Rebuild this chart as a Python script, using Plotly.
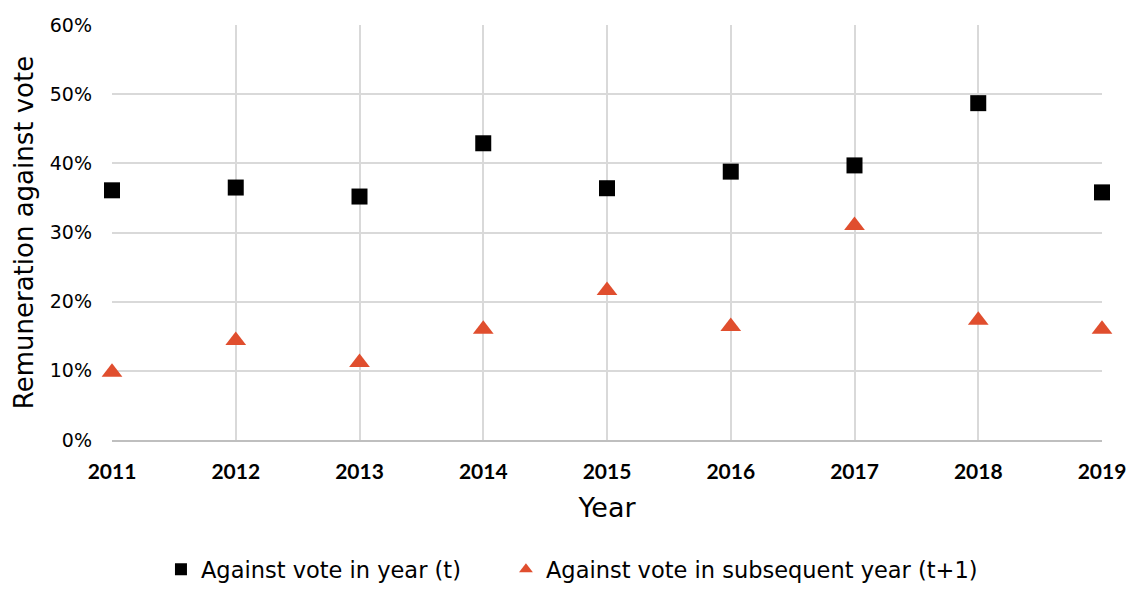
import plotly.graph_objects as go

years = [2011, 2012, 2013, 2014, 2015, 2016, 2017, 2018, 2019]
against_t = [36.1, 36.5, 35.2, 42.9, 36.4, 38.8, 39.7, 48.7, 35.8]
against_t1 = [9.8, 14.4, 11.2, 16.0, 21.6, 16.4, 31.0, 17.3, 16.0]
y_ticks = [0, 10, 20, 30, 40, 50, 60]
y_tick_labels = ["0%", "10%", "20%", "30%", "40%", "50%", "60%"]

FONT = "DejaVu Sans"
BOLD_FONT = "Lato"

fig = go.Figure()
fig.add_trace(go.Scatter(
    x=years, y=against_t, mode="markers", name="Against vote in year (t)",
    marker=dict(symbol="square", size=16, color="#000000"),
    cliponaxis=False, legend="legend",
))
fig.add_trace(go.Scatter(
    x=years, y=against_t1, mode="markers", name="Against vote in subsequent year (t+1)",
    marker=dict(symbol="triangle-up", size=18, color="#e04e2e"),
    cliponaxis=False, legend="legend2",
))

legend_common = dict(orientation="h", xref="container", xanchor="left",
                     yref="container", y=0.03, yanchor="middle",
                     font=dict(size=22.5, family=FONT, color="#000000"),
                     itemsizing="constant", itemwidth=30, bgcolor="rgba(0,0,0,0)")

fig.update_layout(
    width=1119, height=579,
    margin=dict(l=104, r=25, t=17, b=147),
    paper_bgcolor="white", plot_bgcolor="white",
    font=dict(family=FONT, color="#000000"),
    showlegend=True,
    legend=dict(x=0.1367, **legend_common),
    legend2=dict(x=0.445, **legend_common),
    xaxis=dict(
        range=[2011, 2019], tickmode="array", tickvals=years,
        ticktext=[str(y) for y in years], automargin=False,
        ticklabeloverflow="allow",
        tickfont=dict(size=21, family=BOLD_FONT, color="#000000", weight="bold"),
        showgrid=True, gridcolor="#d9d9d9", gridwidth=1.5,
        showline=True, linecolor="#bfbfbf", linewidth=1.5,
        zeroline=False, ticks="", ticklabelstandoff=12,
        title=dict(text="Year", font=dict(size=27, family=FONT, color="#000000"), standoff=16),
    ),
    yaxis=dict(
        range=[0, 60], tickmode="array", tickvals=y_ticks, ticktext=y_tick_labels,
        automargin=False,
        tickfont=dict(size=19, family=FONT, color="#000000"),
        showgrid=True, gridcolor="#d9d9d9", gridwidth=1.5,
        showline=False, zeroline=False, ticks="", ticklabelstandoff=19,
        title=dict(text="Remuneration against vote", font=dict(size=26, family=FONT, color="#000000"), standoff=8),
    ),
)

fig.write_html("out.html")
